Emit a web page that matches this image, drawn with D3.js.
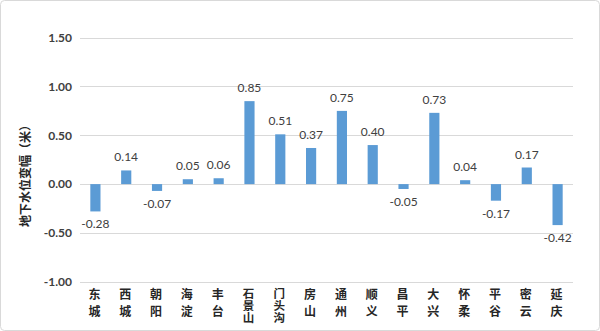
<!DOCTYPE html>
<html><head><meta charset="utf-8">
<script src="https://cdn.jsdelivr.net/npm/d3@7"></script>
<style>body{margin:0;background:#fff}svg{display:block}</style>
</head><body>
<script>
const categories = ["东城","西城","朝阳","海淀","丰台","石景山","门头沟","房山","通州","顺义","昌平","大兴","怀柔","平谷","密云","延庆"];
const values = [-0.28,0.14,-0.07,0.05,0.06,0.85,0.51,0.37,0.75,0.40,-0.05,0.73,0.04,-0.17,0.17,-0.42];
const yTicks = [-1.0,-0.5,0,0.5,1.0,1.5];
const yTitle = "地下水位变幅（米）";

const W = 600, H = 331;
const fmt = d3.formatLocale({decimal:".", thousands:",", grouping:[3], currency:["",""], minus:"-"}).format(".2f");
const svg = d3.select("body").append("svg").attr("width", W).attr("height", H);
svg.append("rect").attr("x",0.5).attr("y",0.5).attr("width",W-1).attr("height",H-1)
  .attr("rx",4).attr("fill","#fff").attr("stroke","#d9d9d9");

const x = d3.scaleBand().domain(categories).range([80, 573]).paddingInner(0.67).paddingOuter(0.335);
const y = d3.scaleLinear().domain([-1, 1.5]).range([281.7, 37.7]);

const cjk = "'Noto Sans CJK SC', sans-serif";
const num = "Lato, 'Open Sans', sans-serif";

// gridlines
svg.append("g").selectAll("line").data(yTicks).join("line")
  .attr("x1",80).attr("x2",573)
  .attr("y1",d=>Math.round(y(d))+0.5).attr("y2",d=>Math.round(y(d))+0.5)
  .attr("stroke","#d9d9d9").attr("stroke-width",1);

// y axis labels
const yAxis = d3.axisLeft(y).tickValues(yTicks).tickFormat(fmt).tickSize(0).tickPadding(0);
const ga = svg.append("g").attr("transform","translate(72,0)").call(yAxis);
ga.select(".domain").remove();
ga.selectAll("text").attr("font-family",num).attr("font-weight","bold").attr("font-size",12).attr("fill","#404040");

// y title
svg.append("text").attr("transform","translate(30,173) rotate(-90)")
  .attr("text-anchor","middle").attr("font-family",cjk).attr("font-size",12).attr("font-weight","bold")
  .attr("fill","#262626").text(yTitle);

// bars
svg.append("g").selectAll("rect").data(values).join("rect")
  .attr("x",(d,i)=>x(categories[i]))
  .attr("width",x.bandwidth())
  .attr("y",d=>y(Math.max(0,d)))
  .attr("height",d=>Math.abs(y(d)-y(0)))
  .attr("fill","#5b9bd5");

// value labels
svg.append("g").selectAll("text").data(values).join("text")
  .attr("x",(d,i)=>x(categories[i])+x.bandwidth()/2)
  .attr("y",d=> d>=0 ? y(d)-9 : y(d)+17)
  .attr("text-anchor","middle").attr("font-family",num).attr("font-size",12).attr("fill","#404040")
  .text(d=>fmt(d));

// category labels (vertical, one text each)
svg.append("g").selectAll("text").data(categories).join("text")
  .attr("x",c=>x(c)+x.bandwidth()/2 - 1)
  .attr("y",288)
  .style("writing-mode","vertical-rl")
  .style("letter-spacing",c=>Array.from(c).length>2 ? "0.5px" : "5.5px")
  .attr("font-family",cjk).attr("font-weight","bold")
  .attr("font-size",c=>Array.from(c).length>2 ? 11.5 : 12)
  .attr("fill","#262626").text(c=>c);
</script>
</body></html>
